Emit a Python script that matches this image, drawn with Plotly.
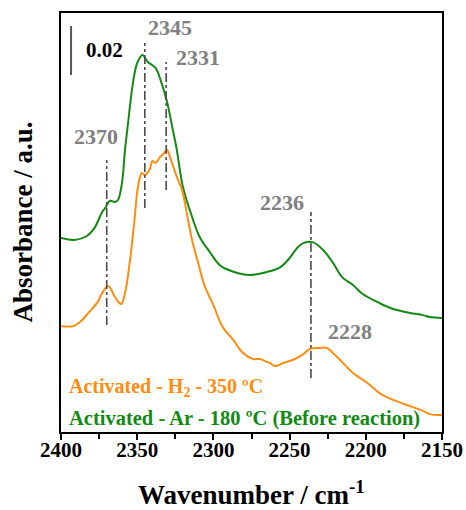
import plotly.graph_objects as go

# Wavenumber (cm^-1) and absorbance
ar_wn = [2400, 2391, 2383, 2378, 2373, 2371, 2368, 2364.6, 2362.6, 2360, 2358, 2356, 2352.8, 2350,
         2346.5, 2343, 2338, 2334, 2330.4, 2327, 2324, 2320, 2314, 2309, 2302, 2296, 2290, 2277,
         2265, 2256, 2250, 2244.5, 2241, 2235, 2228, 2221.5, 2215.6, 2208.4, 2202, 2191, 2182,
         2171, 2162.5, 2158, 2150]
ar_abs = [0.0792, 0.0784, 0.0800, 0.0833, 0.0898, 0.0914, 0.0943, 0.0939, 0.0947, 0.1016, 0.1151,
          0.1261, 0.1424, 0.1506, 0.1539, 0.1510, 0.1486, 0.1424, 0.1347, 0.1245, 0.1151, 0.1000,
          0.0878, 0.0796, 0.0731, 0.0682, 0.0661, 0.0641, 0.0653, 0.0673, 0.0710, 0.0755, 0.0771,
          0.0775, 0.0743, 0.0690, 0.0632, 0.0600, 0.0563, 0.0526, 0.0502, 0.0486, 0.0477, 0.0469,
          0.0465]

h2_wn = [2400, 2392, 2387.5, 2382, 2376, 2373, 2369, 2364.6, 2360.6, 2358, 2354.7, 2352, 2349.5,
         2347, 2345, 2342, 2340, 2338, 2335, 2333, 2330.4, 2328.5, 2324, 2320.6, 2317, 2314, 2310,
         2305.5, 2300, 2294, 2287, 2280.6, 2274, 2269.4, 2265, 2263, 2259.6, 2254, 2248, 2242,
         2236.6, 2230, 2225.5, 2221.5, 2215, 2208.4, 2199, 2191, 2182, 2173, 2162.5, 2158, 2150]
h2_abs = [0.0432, 0.0432, 0.0449, 0.0486, 0.0530, 0.0567, 0.0596, 0.0551, 0.0522, 0.0567, 0.0702,
          0.0853, 0.1000, 0.1057, 0.1049, 0.1069, 0.1106, 0.1098, 0.1122, 0.1134, 0.1151, 0.1122,
          0.1041, 0.0988, 0.0878, 0.0784, 0.0690, 0.0592, 0.0518, 0.0429, 0.0376, 0.0322, 0.0298,
          0.0298, 0.0286, 0.0282, 0.0269, 0.0282, 0.0294, 0.0314, 0.0339, 0.0343, 0.0343, 0.0322,
          0.0282, 0.0241, 0.0200, 0.0159, 0.0131, 0.0110, 0.0086, 0.0073, 0.0069]

# Peak markers: position, line bottom/top, label text and label position
peak_wn = [2370, 2345, 2331, 2236]
peak_lo = [0.0437, 0.0914, 0.0988, 0.0220]
peak_hi = [0.1110, 0.1588, 0.1510, 0.0898]
label_text = ["2370", "2345", "2331", "2236", "2228"]
label_wn = [2377, 2328.5, 2310, 2255, 2210.4]
label_abs = [0.1208, 0.1650, 0.1530, 0.0938, 0.0412]

scale_wn = 2393.4
scale_lo, scale_hi = 0.1457, 0.1657
scale_text = "0.02"

x_ticks = [2400, 2350, 2300, 2250, 2200, 2150]

GREEN = "#138a13"
ORANGE = "#ff8c0f"
FONT = "Liberation Serif"

fig = go.Figure()
fig.add_trace(go.Scatter(x=ar_wn, y=ar_abs, mode="lines", line=dict(color=GREEN, width=2),
                         line_shape="spline", showlegend=False))
fig.add_trace(go.Scatter(x=h2_wn, y=h2_abs, mode="lines", line=dict(color=ORANGE, width=2),
                         line_shape="spline", showlegend=False))

for wn, lo, hi in zip(peak_wn, peak_lo, peak_hi):
    fig.add_trace(go.Scatter(x=[wn, wn], y=[lo, hi], mode="lines",
                             line=dict(color="#4a4a4a", width=1.6, dash="dashdot"),
                             showlegend=False, hoverinfo="skip"))

fig.add_trace(go.Scatter(x=[scale_wn, scale_wn], y=[scale_lo, scale_hi], mode="lines",
                         line=dict(color="#555555", width=2), showlegend=False, hoverinfo="skip"))

for t, wn, a in zip(label_text, label_wn, label_abs):
    fig.add_annotation(x=wn, y=a, text="<b>" + t + "</b>", showarrow=False, xanchor="center",
                       yanchor="middle", font=dict(family=FONT, size=22, color="#808080"))

fig.add_annotation(x=2385, y=0.1557, text="<b>" + scale_text + "</b>", showarrow=False,
                   xanchor="left", yanchor="middle",
                   font=dict(family=FONT, size=21, color="black"))

fig.add_annotation(xref="paper", yref="paper", x=0.015, y=(432 - 387) / 419,
                   text="<b>Activated - H<sub>2</sub> - 350 ºC</b>", showarrow=False,
                   xanchor="left", yanchor="middle",
                   font=dict(family=FONT, size=20, color=ORANGE))
fig.add_annotation(xref="paper", yref="paper", x=0.015, y=(432 - 418) / 419,
                   text="<b>Activated - Ar - 180 ºC (Before reaction)</b>", showarrow=False,
                   xanchor="left", yanchor="middle",
                   font=dict(family=FONT, size=20.5, color=GREEN))

fig.add_annotation(xref="paper", yref="paper", x=0.5, y=-(493 - 432) / 419,
                   text="<b>Wavenumber / cm<sup>-1</sup></b>", showarrow=False,
                   xanchor="center", yanchor="middle",
                   font=dict(family=FONT, size=27, color="black"))
fig.add_annotation(xref="paper", yref="paper", x=(22 - 61) / 381, y=0.5,
                   text="<b>Absorbance / a.u.</b>", showarrow=False, textangle=-90,
                   xanchor="center", yanchor="middle",
                   font=dict(family=FONT, size=27, color="black"))

fig.update_xaxes(range=[2400, 2150], tickvals=x_ticks, ticktext=["<b>%d</b>" % v for v in x_ticks],
                 ticks="outside", ticklen=6, tickwidth=1.5, automargin=False,
                 ticklabelstandoff=-8,
                 tickcolor="black", showline=True, linewidth=2, linecolor="black", mirror=True,
                 showgrid=False, zeroline=False,
                 minor=dict(ticks="outside", dtick=25, ticklen=5, tickwidth=1.5, tickcolor="black",
                            showgrid=False),
                 tickfont=dict(family=FONT, size=21, color="black"))
fig.update_yaxes(range=[0, 0.171], showticklabels=False, ticks="", showline=True, linewidth=2,
                 automargin=False,
                 linecolor="black", mirror=True, showgrid=False, zeroline=False)

fig.update_layout(width=466, height=510, margin=dict(l=61, r=24, t=13, b=78, autoexpand=False),
                  plot_bgcolor="white", paper_bgcolor="white", showlegend=False)

fig.write_html("out.html")
